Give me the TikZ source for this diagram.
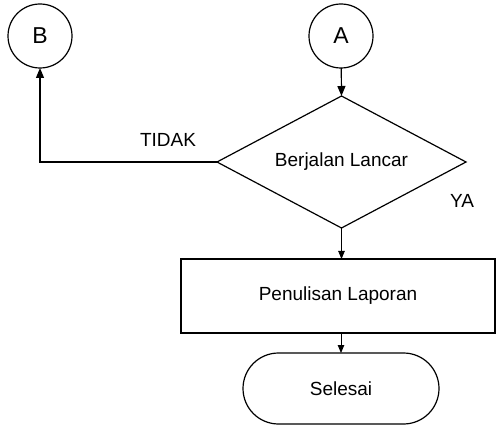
\documentclass[tikz,border=0pt]{standalone}
\usepackage{fontspec}
\setmainfont{Liberation Sans}
\usetikzlibrary{shapes.geometric,shapes.misc,arrows.meta}
\begin{document}
\begin{tikzpicture}[x=1pt,y=-1pt,
  conn/.style={circle,draw,line width=1.2pt,minimum size=64pt,inner sep=0pt,outer sep=0pt,font=\fontsize{23}{26}\selectfont},
  decision/.style={diamond,draw,line width=1.2pt,aspect=1.886,minimum width=249pt,minimum height=132pt,inner sep=0pt,outer sep=0pt,font=\fontsize{19}{22}\selectfont},
  process/.style={rectangle,draw,line width=1.3pt,minimum width=314pt,minimum height=74pt,inner sep=0pt,outer sep=0pt,font=\fontsize{19}{22}\selectfont},
  terminal/.style={rounded rectangle,draw,line width=1.2pt,minimum width=196pt,minimum height=71pt,inner sep=0pt,outer sep=0pt,font=\fontsize{19}{22}\selectfont},
  lbl/.style={inner sep=0pt,font=\fontsize{19}{22}\selectfont},
  flow/.style={line width=1.2pt,-{Triangle[length=10pt,width=8pt]}},
  flowsmall/.style={line width=0.9pt,-{Triangle[length=8pt,width=6.5pt]}}]
\useasboundingbox (0,0) rectangle (496,425);
\node[conn] (B) at (40,36) {B};
\node[conn] (A) at (341,36) {A};
\node[decision] (D) at (341.5,162) {Berjalan Lancar};
\node[process] (P) at (338,296) {Penulisan Laporan};
\node[terminal] (S) at (341,388.5) {Selesai};
\node[lbl] (tidak) at (168,140) {TIDAK};
\node[lbl] (ya) at (462,201) {YA};
\draw[flow] (A) -- (D.north);
\draw[flow] (D.west) -| (B.south);
\draw[flowsmall] (D.south) -- (D.south |- P.north);
\draw[flowsmall] (S.north |- P.south) -- (S.north);
\end{tikzpicture}
\end{document}
